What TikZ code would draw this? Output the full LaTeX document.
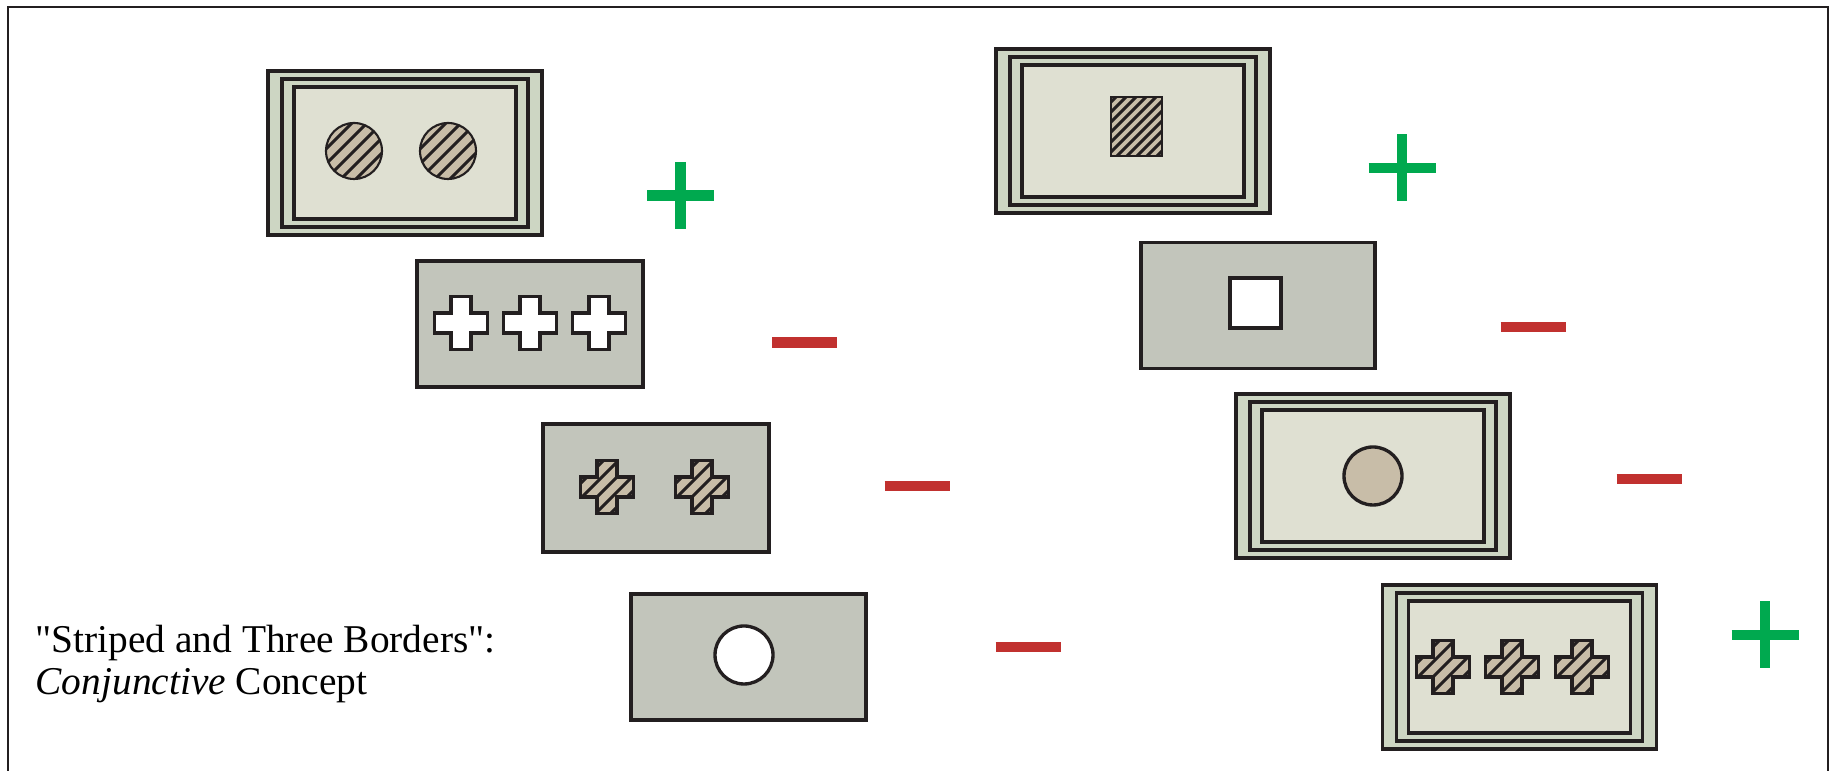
\documentclass[tikz,border=0pt]{standalone}
\usepackage{fontspec}
\setmainfont{Liberation Serif}
\definecolor{linecol}{HTML}{231F20}
\definecolor{bordergreen}{HTML}{CDD6C3}
\definecolor{innerpale}{HTML}{DFE0D2}
\definecolor{cardgrey}{HTML}{C2C5BB}
\definecolor{tanfill}{HTML}{C8BDA8}
\definecolor{plusgreen}{HTML}{00A94F}
\definecolor{minusred}{HTML}{C1312F}
\def\crosspath{(-10,-26.5)--(10,-26.5)--(10,-10)--(26.5,-10)--(26.5,10)--(10,10)--(10,26.5)--(-10,26.5)--(-10,10)--(-26.5,10)--(-26.5,-10)--(-10,-10)--cycle}
\tikzset{
  outline/.style={draw=linecol, line width=0.95pt},
  hatchline/.style={linecol, line width=0.85pt},
  greycard/.style={outline, fill=cardgrey, inner sep=0pt, minimum height=1.26cm},
  outercard/.style={outline, fill=bordergreen, inner sep=0pt, minimum width=2.74cm, minimum height=1.64cm},
  midcard/.style={outline, inner sep=0pt, minimum width=2.46cm, minimum height=1.48cm},
  innercard/.style={outline, fill=innerpale, inner sep=0pt, minimum width=2.22cm, minimum height=1.32cm},
  plussign/.style={plusgreen, line width=3.1pt},
  minussign/.style={minusred, line width=3.1pt},
  pics/plaincross/.style={code={\draw[outline, fill=white] \crosspath;}},
  pics/stripedcross/.style={code={
      \fill[tanfill] \crosspath;
      \begin{scope} \clip \crosspath;
        \foreach \k in {-60,-45,...,60} \draw[hatchline] (\k-40,40)--(\k+40,-40);
      \end{scope}
      \draw[outline] \crosspath;}},
  pics/stripeddisc/.style={code={
      \fill[tanfill] (0,0) circle (28);
      \begin{scope} \clip (0,0) circle (28);
        \foreach \k in {-60,-45,...,60} \draw[hatchline] (\k-40,40)--(\k+40,-40);
      \end{scope}
      \draw[outline, line width=0.6pt] (0,0) circle (28);}}
}
\newcommand\borderedcard[2]{%
  \node[outercard] (#1) at (#2) {};
  \node[midcard] at (#1) {};
  \node[innercard] at (#1) {};}
\begin{document}
\begin{tikzpicture}[x=0.01cm, y=-0.01cm, line join=miter]
  \useasboundingbox (0,0) rectangle (1832,771);
  \draw[linecol, line width=0.8pt] (8,775)--(8,7)--(1828,7)--(1828,775);
  % left column
  \borderedcard{card1}{405,153}
  \pic at (354,151) {stripeddisc}; \pic at (448,151) {stripeddisc};
  \node[greycard, minimum width=2.26cm] (card2) at (530,324) {};
  \foreach \x in {461,530,599} \pic at (\x,323) {plaincross};
  \node[greycard, minimum width=2.26cm, minimum height=1.28cm] (card3) at (656,488) {};
  \foreach \x in {607,702} \pic at (\x,487) {stripedcross};
  \node[greycard, minimum width=2.35cm] (card4) at (748.5,657) {};
  \draw[outline, fill=white] (744,655) circle (29);
  % right column
  \borderedcard{card5}{1133,131}
  \fill[tanfill] (1111,97) rectangle (1162,156);
  \begin{scope} \clip (1111,97) rectangle (1162,156);
    \foreach \k in {-90,-80,...,90} \draw[hatchline] (1136.5+\k-60,126.5+60)--(1136.5+\k+60,126.5-60);
  \end{scope}
  \draw[linecol, line width=0.5pt] (1111,97) rectangle (1162,156);
  \node[greycard, minimum width=2.34cm] (card6) at (1258,305.5) {};
  \draw[outline, fill=white] (1230,278) rectangle (1281,328);
  \borderedcard{card7}{1373,476}
  \draw[outline, fill=tanfill] (1373,476) circle (29);
  \borderedcard{card8}{1519.5,667}
  \foreach \x in {1443,1512,1582} \pic at (\x,667) {stripedcross};
  % signs
  \foreach \p in {(680.5,195.5),(1402,168),(1765,635)}
    \draw[plussign] \p +(-33.5,0)--+(33.5,0) \p +(0,-33.5)--+(0,33.5);
  \foreach \p in {(804.5,342.5),(917,486),(1028,647),(1533,327),(1649,479)}
    \draw[minussign] \p +(-32.5,0)--+(32.5,0);
  \node[anchor=west, align=left, inner sep=0pt, font=\fontsize{11.2}{12.2}\selectfont] (caption) at (35,664)
    {\textquotedbl Striped and Three Borders\textquotedbl:\\\textit{Conjunctive} Concept};
\end{tikzpicture}
\end{document}
